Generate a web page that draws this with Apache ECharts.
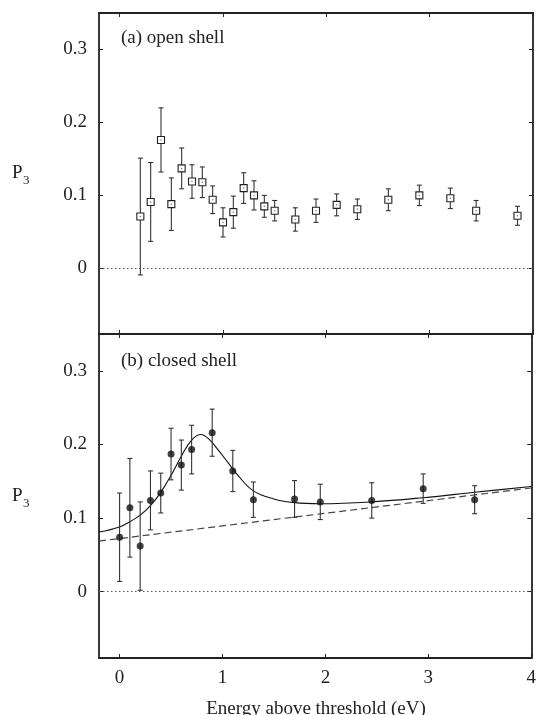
<!DOCTYPE html>
<html>
<head>
<meta charset="utf-8">
<script src="https://cdn.jsdelivr.net/npm/echarts@6/dist/echarts.min.js"></script>
<style>
  html, body { margin: 0; padding: 0; background: #fff; }
  #contain { width: 539px; height: 715px; }
</style>
</head>
<body>
<div id="contain"></div>
<script>
// tick positions / labels
var xTicks = [0, 1, 2, 3, 4];
var xTickLabels = ['0', '1', '2', '3', '4'];
var yTicks = [0, 0.1, 0.2, 0.3];
var yTickLabels = ['0', '0.1', '0.2', '0.3'];

// (a) open shell
var openE   = [0.2, 0.3, 0.4, 0.5, 0.6, 0.7, 0.8, 0.9, 1.0, 1.1, 1.2, 1.3, 1.4, 1.5, 1.7, 1.9, 2.1, 2.3, 2.6, 2.9, 3.2, 3.45, 3.85];
var openP   = [0.071, 0.091, 0.176, 0.088, 0.137, 0.119, 0.118, 0.094, 0.063, 0.077, 0.110, 0.100, 0.085, 0.079, 0.067, 0.079, 0.087, 0.081, 0.094, 0.100, 0.096, 0.079, 0.072];
var openErr = [0.080, 0.054, 0.044, 0.036, 0.028, 0.023, 0.021, 0.019, 0.020, 0.022, 0.021, 0.020, 0.015, 0.014, 0.016, 0.016, 0.015, 0.014, 0.015, 0.014, 0.014, 0.014, 0.013];

// (b) closed shell
var closedE   = [0, 0.1, 0.2, 0.3, 0.4, 0.5, 0.6, 0.7, 0.9, 1.1, 1.3, 1.7, 1.95, 2.45, 2.95, 3.45];
var closedP   = [0.074, 0.114, 0.062, 0.124, 0.134, 0.187, 0.172, 0.193, 0.216, 0.164, 0.125, 0.126, 0.122, 0.124, 0.140, 0.125];
var closedErr = [0.060, 0.067, 0.060, 0.040, 0.027, 0.035, 0.034, 0.033, 0.032, 0.028, 0.024, 0.025, 0.024, 0.024, 0.020, 0.019];

// fit curve (solid) and background (dashed)
var fitE = [-0.2, 0, 0.1, 0.2, 0.3, 0.4, 0.5, 0.6, 0.7, 0.79, 0.87, 0.95, 1.05, 1.15, 1.3, 1.5, 1.7, 1.95, 2.45, 2.95, 3.45, 4.0];
var fitP = [0.081, 0.088, 0.095, 0.104, 0.117, 0.135, 0.158, 0.184, 0.206, 0.2135, 0.207, 0.194, 0.176, 0.158, 0.137, 0.126, 0.121, 0.1195, 0.122, 0.1277, 0.135, 0.143];
var bgE = [-0.2, 4.0];
var bgP = [0.0688, 0.1409];

var font = 'Liberation Serif';
var ink = '#222';

function pairs(xs, ys) {
    return xs.map(function (x, i) { return [x, ys[i]]; });
}
function bars(xs, ys, es) {
    return xs.map(function (x, i) { return [x, ys[i] - es[i], ys[i] + es[i]]; });
}

function renderErr(params, api) {
    var x = api.value(0);
    var hi = api.coord([x, api.value(2)]);
    var lo = api.coord([x, api.value(1)]);
    var w = 2.5;
    var st = { stroke: '#333', lineWidth: 1.1 };
    return {
        type: 'group',
        children: [
            { type: 'line', shape: { x1: hi[0], y1: hi[1], x2: lo[0], y2: lo[1] }, style: st },
            { type: 'line', shape: { x1: hi[0] - w, y1: hi[1], x2: hi[0] + w, y2: hi[1] }, style: st },
            { type: 'line', shape: { x1: lo[0] - w, y1: lo[1], x2: lo[0] + w, y2: lo[1] }, style: st }
        ]
    };
}

function xAx(grid, pos, labels) {
    return {
        type: 'value', gridIndex: grid, position: pos,
        min: -0.2, max: 4,
        axisLine: { show: true, onZero: false, lineStyle: { color: ink, width: 1.8 } },
        axisTick: { show: true, inside: true, length: 4, customValues: xTicks, lineStyle: { color: ink } },
        axisLabel: {
            show: labels, customValues: xTicks, margin: 11,
            formatter: function (v) { return xTickLabels[xTicks.indexOf(v)]; },
            fontFamily: font, fontSize: 19, color: ink
        },
        splitLine: { show: false }
    };
}
function yAx(grid, pos, labels) {
    return {
        type: 'value', gridIndex: grid, position: pos,
        min: -0.09, max: 0.35,
        axisLine: { show: true, onZero: false, lineStyle: { color: ink, width: 1.8 } },
        axisTick: { show: true, inside: true, length: 4, customValues: yTicks, lineStyle: { color: ink } },
        axisLabel: {
            show: labels, customValues: yTicks, margin: 12,
            formatter: function (v) {
                for (var i = 0; i < yTicks.length; i++) {
                    if (Math.abs(yTicks[i] - v) < 1e-9) return yTickLabels[i];
                }
                return '';
            },
            fontFamily: font, fontSize: 19, color: ink
        },
        splitLine: { show: false }
    };
}

var zeroLine = {
    silent: true, symbol: 'none', label: { show: false },
    lineStyle: { color: '#555', type: [1.5, 2.5], width: 1 },
    data: [{ yAxis: 0 }]
};

var myChart = echarts.init(document.getElementById('contain'));

var option = {
    animation: false,
    backgroundColor: '#fff',
    grid: [
        { left: 99, top: 13, width: 434, height: 321 },
        { left: 99, top: 334, width: 434, height: 324 }
    ],
    xAxis: [
        xAx(0, 'bottom', false), xAx(0, 'top', false),
        xAx(1, 'bottom', true), xAx(1, 'top', false)
    ],
    yAxis: [
        yAx(0, 'left', true), yAx(0, 'right', false),
        yAx(1, 'left', true), yAx(1, 'right', false)
    ],
    graphic: [
        { type: 'text', left: 121, top: 29, style: { text: '(a) open shell', font: '19px "Liberation Serif"', fill: ink } },
        { type: 'text', left: 121, top: 352, style: { text: '(b) closed shell', font: '19px "Liberation Serif"', fill: ink } },
        { type: 'text', x: 12, y: 173, style: { text: 'P', font: '19px "Liberation Serif"', fill: ink, verticalAlign: 'middle' } },
        { type: 'text', x: 23, y: 181, style: { text: '3', font: '13px "Liberation Serif"', fill: ink, verticalAlign: 'middle' } },
        { type: 'text', x: 12, y: 496, style: { text: 'P', font: '19px "Liberation Serif"', fill: ink, verticalAlign: 'middle' } },
        { type: 'text', x: 23, y: 504, style: { text: '3', font: '13px "Liberation Serif"', fill: ink, verticalAlign: 'middle' } },
        { type: 'text', x: 316, y: 709, style: { text: 'Energy above threshold (eV)', font: '19px "Liberation Serif"', fill: ink, align: 'center', verticalAlign: 'middle' } }
    ],
    series: [
        // panel (a)
        {
            type: 'line', xAxisIndex: 0, yAxisIndex: 0, data: [], markLine: zeroLine
        },
        {
            type: 'custom', xAxisIndex: 0, yAxisIndex: 0,
            renderItem: renderErr, encode: { x: 0, y: [1, 2] },
            data: bars(openE, openP, openErr), z: 2
        },
        {
            type: 'scatter', xAxisIndex: 0, yAxisIndex: 0, symbol: 'rect', symbolSize: 7,
            itemStyle: { color: '#fff', borderColor: '#222', borderWidth: 1.1, opacity: 1 },
            data: pairs(openE, openP), z: 3
        },
        {
            type: 'scatter', xAxisIndex: 0, yAxisIndex: 0, symbol: 'circle', symbolSize: 1.5,
            itemStyle: { color: '#555' },
            data: pairs(openE, openP), z: 4
        },
        // panel (b)
        {
            type: 'line', xAxisIndex: 2, yAxisIndex: 2, data: pairs(bgE, bgP),
            showSymbol: false, lineStyle: { color: '#444', width: 1.2, type: [7, 4] },
            markLine: zeroLine, z: 1
        },
        {
            type: 'line', xAxisIndex: 2, yAxisIndex: 2, data: pairs(fitE, fitP),
            showSymbol: false, smooth: 0.4, lineStyle: { color: '#111', width: 1.1 }, z: 2
        },
        {
            type: 'custom', xAxisIndex: 2, yAxisIndex: 2,
            renderItem: renderErr, encode: { x: 0, y: [1, 2] },
            data: bars(closedE, closedP, closedErr), z: 3
        },
        {
            type: 'scatter', xAxisIndex: 2, yAxisIndex: 2, symbol: 'circle', symbolSize: 7,
            itemStyle: { color: '#111' },
            data: pairs(closedE, closedP), z: 4
        }
    ]
};

myChart.setOption(option);
</script>
</body>
</html>
